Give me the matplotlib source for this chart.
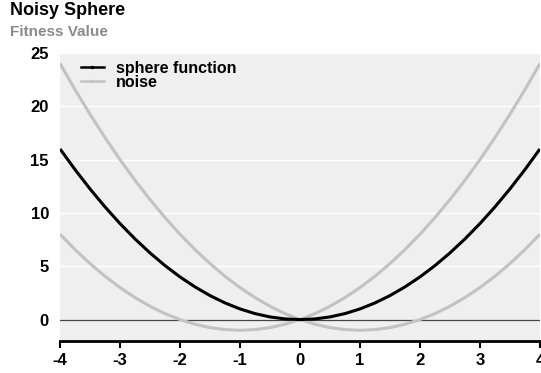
import matplotlib
matplotlib.use('Agg')
import matplotlib.pyplot as plt
from matplotlib.lines import Line2D

plt.rcParams['font.family'] = ['Liberation Sans', 'DejaVu Sans']

# Sampled curves on a 0.25 grid
x = [-4.0, -3.75, -3.5, -3.25, -3.0, -2.75, -2.5, -2.25, -2.0, -1.75, -1.5,
     -1.25, -1.0, -0.75, -0.5, -0.25, 0.0, 0.25, 0.5, 0.75, 1.0, 1.25, 1.5,
     1.75, 2.0, 2.25, 2.5, 2.75, 3.0, 3.25, 3.5, 3.75, 4.0]
sphere = [16.0, 14.0625, 12.25, 10.5625, 9.0, 7.5625, 6.25, 5.0625, 4.0,
          3.0625, 2.25, 1.5625, 1.0, 0.5625, 0.25, 0.0625, 0.0, 0.0625, 0.25,
          0.5625, 1.0, 1.5625, 2.25, 3.0625, 4.0, 5.0625, 6.25, 7.5625, 9.0,
          10.5625, 12.25, 14.0625, 16.0]
noise_left = [8.0, 6.5625, 5.25, 4.0625, 3.0, 2.0625, 1.25, 0.5625, 0.0,
              -0.4375, -0.75, -0.9375, -1.0, -0.9375, -0.75, -0.4375, 0.0,
              0.5625, 1.25, 2.0625, 3.0, 4.0625, 5.25, 6.5625, 8.0, 9.5625,
              11.25, 13.0625, 15.0, 17.0625, 19.25, 21.5625, 24.0]
noise_right = [24.0, 21.5625, 19.25, 17.0625, 15.0, 13.0625, 11.25, 9.5625,
               8.0, 6.5625, 5.25, 4.0625, 3.0, 2.0625, 1.25, 0.5625, 0.0,
               -0.4375, -0.75, -0.9375, -1.0, -0.9375, -0.75, -0.4375, 0.0,
               0.5625, 1.25, 2.0625, 3.0, 4.0625, 5.25, 6.5625, 8.0]

x_ticks = [-4, -3, -2, -1, 0, 1, 2, 3, 4]
y_ticks = [0, 5, 10, 15, 20, 25]

fig = plt.figure(figsize=(5.41, 3.73), dpi=100)
ax = fig.add_axes([0.111, 0.086, 0.887, 0.772])
ax.set_facecolor('#efefef')

noise_col = '#c2c2c2'
ax.plot(x, noise_left, color=noise_col, lw=2.2, solid_capstyle='butt', zorder=3)
ax.plot(x, noise_right, color=noise_col, lw=2.2, solid_capstyle='butt', zorder=3)
ax.plot(x, sphere, color='black', lw=2.2, solid_capstyle='butt', zorder=4)
ax.axhline(0, color='#444444', lw=0.9, zorder=2)

ax.set_xlim(-4, 4)
ax.set_ylim(-2, 25)
ax.set_xticks(x_ticks)
ax.set_xticklabels([str(v) for v in x_ticks])
ax.set_yticks(y_ticks)
ax.set_yticklabels([str(v) for v in y_ticks])
ax.grid(axis='y', color='white', lw=1.0, zorder=1)
ax.set_axisbelow(True)

for side in ['top', 'right', 'left']:
    ax.spines[side].set_visible(False)
ax.spines['bottom'].set_linewidth(2)
ax.tick_params(axis='x', direction='out', length=5, width=1.5, pad=4,
               labelsize=12)
ax.tick_params(axis='y', length=0, pad=8, labelsize=12)
for lbl in ax.get_xticklabels() + ax.get_yticklabels():
    lbl.set_fontweight('bold')

handles = [Line2D([], [], color='black', lw=1.8, marker='.', markersize=3),
           Line2D([], [], color=noise_col, lw=1.8, marker='.', markersize=3)]
ax.legend(handles, ['sphere function', 'noise'], loc='upper left',
          bbox_to_anchor=(0.02, 1.012), frameon=False, handlelength=1.45,
          handletextpad=0.75, labelspacing=-0.05, borderaxespad=0.3,
          prop={'weight': 'bold', 'size': 11.5})

fig.text(0.018, 0.995, 'Noisy Sphere', fontsize=13, fontweight='bold',
         va='top', ha='left')
fig.text(0.018, 0.932, 'Fitness Value', fontsize=11, fontweight='bold',
         color='#8a8a8a', va='top', ha='left')

fig.savefig('out.png', dpi=100)
